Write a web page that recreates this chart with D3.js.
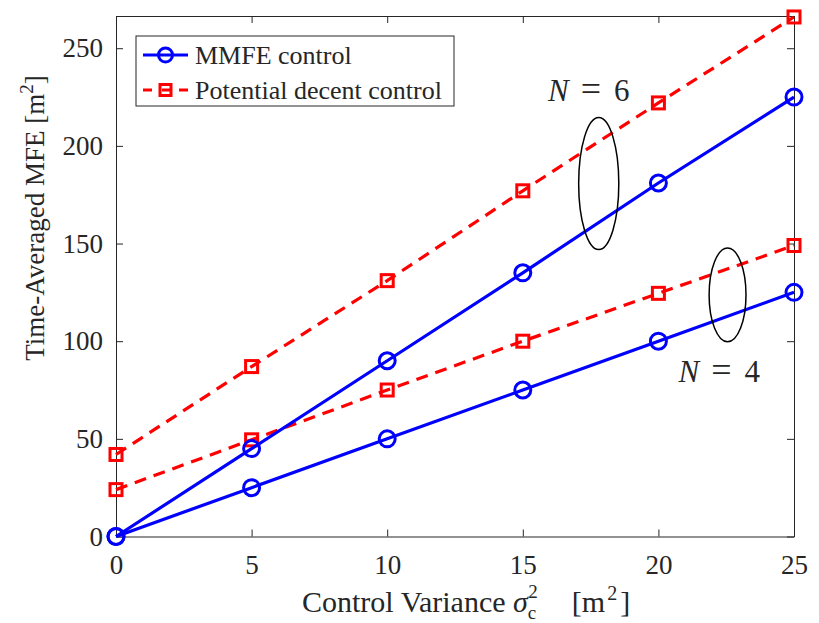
<!DOCTYPE html>
<html>
<head>
<meta charset="utf-8">
<script src="https://cdn.jsdelivr.net/npm/d3@7"></script>
<style>
  body { margin: 0; background: #fff; }
  svg text { font-family: "Liberation Serif", "Times New Roman", serif; fill: #262626; }
</style>
</head>
<body>
<div id="chart"></div>
<script>
// data
var variance = [0, 5, 10, 15, 20, 25];
var mmfeN6 = [0, 45, 90, 135, 181, 225];
var mmfeN4 = [0, 25, 50, 75, 100, 125];
var potN6 = [42, 87, 131, 177, 222, 266];
var potN4 = [24, 49.5, 75, 100, 124.5, 149];
var xTicks = [0, 5, 10, 15, 20, 25];
var yTicks = [0, 50, 100, 150, 200, 250];

var margin = { top: 16, right: 25, bottom: 86.5, left: 116 },
    width = 819 - margin.left - margin.right,
    height = 623 - margin.top - margin.bottom;

var x = d3.scaleLinear().domain([0, 25]).range([0, width]);
var y = d3.scaleLinear().domain([0, 266.5]).range([height, 0]);

var svg = d3.select("#chart").append("svg")
  .attr("width", 819)
  .attr("height", 623)
  .style("font-family", "'Liberation Serif', serif")
  .append("g")
  .attr("transform", "translate(" + margin.left + "," + margin.top + ")");

var axisColor = "#262626";

// axes with inward ticks, box on all sides
var xAxis = d3.axisBottom(x).tickValues(xTicks).tickSizeInner(-7).tickSizeOuter(0).tickPadding(18);
var yAxis = d3.axisLeft(y).tickValues(yTicks).tickSizeInner(-7).tickSizeOuter(0).tickPadding(13);

var gx = svg.append("g")
  .attr("class", "x axis")
  .attr("transform", "translate(0," + height + ")")
  .call(xAxis);
var gy = svg.append("g")
  .attr("class", "y axis")
  .call(yAxis);
svg.append("g")
  .call(d3.axisTop(x).tickValues(xTicks).tickSizeInner(-7).tickSizeOuter(0).tickFormat(""));
svg.append("g")
  .attr("transform", "translate(" + width + ",0)")
  .call(d3.axisRight(y).tickValues(yTicks).tickSizeInner(-7).tickSizeOuter(0).tickFormat(""));

svg.selectAll(".domain").attr("stroke", axisColor).attr("stroke-width", 1);
svg.selectAll(".tick line").attr("stroke", axisColor).attr("stroke-width", 1);
svg.selectAll(".tick text")
  .style("font-family", "'Liberation Serif', serif")
  .style("font-size", "27px")
  .attr("fill", axisColor);
gx.selectAll(".tick text").attr("dy", "0.71em");

// axis labels
svg.append("text")
  .attr("x", 302 - margin.left)
  .attr("y", height + 75)
  .style("font-size", "30px")
  .call(function (t) {
    t.append("tspan").text("Control Variance ");
    t.append("tspan").style("font-style", "italic").text("σ");
    t.append("tspan").attr("dy", 7).style("font-size", "19px").text("c");
    t.append("tspan").attr("dx", -8).attr("dy", -21).style("font-size", "19px").text("2");
    t.append("tspan").attr("dx", 34).attr("dy", 14).text("[m");
    t.append("tspan").attr("dx", 2).attr("dy", -12).style("font-size", "20px").text("2");
    t.append("tspan").attr("dx", 3).attr("dy", 12).text("]");
  });

svg.append("text")
  .attr("transform", "translate(" + (44 - margin.left) + "," + (218 - margin.top) + ") rotate(-90)")
  .style("text-anchor", "middle")
  .style("font-size", "27px")
  .call(function (t) {
    t.append("tspan").text("Time-Averaged MFE [m");
    t.append("tspan").attr("dy", -11).style("font-size", "19px").text("2");
    t.append("tspan").attr("dy", 11).text("]");
  });

// series
var series = [
  { name: "N6 pot", values: potN6, color: "#ff0000", dash: "12,8", marker: "square" },
  { name: "N4 pot", values: potN4, color: "#ff0000", dash: "12,8", marker: "square" },
  { name: "N6 mmfe", values: mmfeN6, color: "#0000ff", dash: null, marker: "circle" },
  { name: "N4 mmfe", values: mmfeN4, color: "#0000ff", dash: null, marker: "circle" }
];

var line = d3.line()
  .x(function (d) { return x(d[0]); })
  .y(function (d) { return y(d[1]); });

series.forEach(function (s) {
  var pts = variance.map(function (v, i) { return [v, s.values[i]]; });
  svg.append("path")
    .datum(pts)
    .attr("fill", "none")
    .attr("stroke", s.color)
    .attr("stroke-width", 3.2)
    .attr("stroke-dasharray", s.dash)
    .attr("d", line);
  if (s.marker == "circle") {
    svg.selectAll(null)
      .data(pts)
      .enter().append("circle")
      .attr("cx", function (d) { return x(d[0]); })
      .attr("cy", function (d) { return y(d[1]); })
      .attr("r", 8)
      .attr("fill", "none")
      .attr("stroke", s.color)
      .attr("stroke-width", 3);
  } else {
    svg.selectAll(null)
      .data(pts)
      .enter().append("rect")
      .attr("x", function (d) { return x(d[0]) - 6; })
      .attr("y", function (d) { return y(d[1]) - 6; })
      .attr("width", 12)
      .attr("height", 12)
      .attr("fill", "none")
      .attr("stroke", s.color)
      .attr("stroke-width", 3);
  }
});

// annotations: ellipses and N labels
var ellipses = [
  { cx: 17.8, cy: 180.7, rx: 0.74, ry: 33.8 },
  { cx: 22.55, cy: 123.7, rx: 0.68, ry: 24 }
];
svg.selectAll(".ann")
  .data(ellipses)
  .enter().append("ellipse")
  .attr("class", "ann")
  .attr("cx", function (d) { return x(d.cx); })
  .attr("cy", function (d) { return y(d.cy); })
  .attr("rx", function (d) { return x(d.rx) - x(0); })
  .attr("ry", function (d) { return y(0) - y(d.ry); })
  .attr("fill", "none")
  .attr("stroke", "#000")
  .attr("stroke-width", 1.5);

var nLabels = [
  { x: 15.93, y: 223, n: "6" },
  { x: 20.74, y: 79, n: "4" }
];
nLabels.forEach(function (d) {
  var t = svg.append("text")
    .attr("x", x(d.x))
    .attr("y", y(d.y))
    .style("font-size", "31px")
    .attr("fill", "#333");
  t.append("tspan").style("font-style", "italic").text("N");
  t.append("tspan").attr("dx", 12).style("font-size", "36px").text("=");
  t.append("tspan").attr("dx", 13).text(d.n);
});

// legend
var legend = svg.append("g")
  .attr("transform", "translate(" + (136 - margin.left) + "," + (36 - margin.top) + ")");
legend.append("rect")
  .attr("width", 318)
  .attr("height", 70)
  .attr("fill", "#fff")
  .attr("stroke", axisColor)
  .attr("stroke-width", 1);
var legendItems = [
  { label: "MMFE control", color: "#0000ff", marker: "circle" },
  { label: "Potential decent control", color: "#ff0000", marker: "square" }
];
legendItems.forEach(function (d, i) {
  var ly = 19 + i * 35;
  legend.append("line")
    .attr("x1", 7).attr("x2", 52)
    .attr("y1", ly).attr("y2", ly)
    .attr("stroke", d.color)
    .attr("stroke-width", 3.2)
    .attr("stroke-dasharray", d.marker == "square" ? "9,10,8" : null);
  if (d.marker == "circle") {
    legend.append("circle")
      .attr("cx", 29.5).attr("cy", ly).attr("r", 7)
      .attr("fill", "none").attr("stroke", d.color).attr("stroke-width", 3);
  } else {
    legend.append("rect")
      .attr("x", 24).attr("y", ly - 5.5).attr("width", 11).attr("height", 11)
      .attr("fill", "none").attr("stroke", d.color).attr("stroke-width", 3);
  }
  legend.append("text")
    .attr("x", 59)
    .attr("y", ly + 9)
    .style("font-size", "26px")
    .text(d.label);
});
</script>
</body>
</html>
